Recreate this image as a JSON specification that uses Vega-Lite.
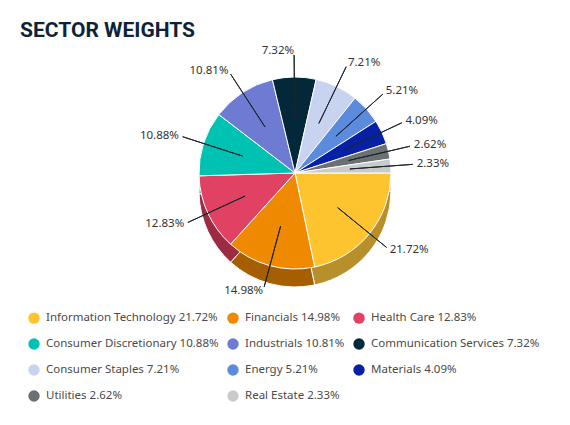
{
  "$schema": "https://vega.github.io/schema/vega-lite/v6.json",
  "width": 550,
  "height": 228,
  "padding": {"left": 20, "top": 20, "right": 0, "bottom": 0},
  "background": "white",
  "title": {
    "text": "SECTOR WEIGHTS",
    "anchor": "start",
    "font": "Roboto",
    "fontWeight": 700,
    "fontSize": 21,
    "color": "#0d2438",
    "offset": 4
  },
  "data": {
    "values": [
      {"sector": "Information Technology", "weight": 21.72},
      {"sector": "Financials", "weight": 14.98},
      {"sector": "Health Care", "weight": 12.83},
      {"sector": "Consumer Discretionary", "weight": 10.88},
      {"sector": "Industrials", "weight": 10.81},
      {"sector": "Communication Services", "weight": 7.32},
      {"sector": "Consumer Staples", "weight": 7.21},
      {"sector": "Energy", "weight": 5.21},
      {"sector": "Materials", "weight": 4.09},
      {"sector": "Utilities", "weight": 2.62},
      {"sector": "Real Estate", "weight": 2.33}
    ]
  },
  "transform": [
    {"stack": "weight", "groupby": [], "sort": [{"field": "weight", "order": "descending"}], "as": ["t0", "t1"]},
    {"calculate": "(datum.t0 + datum.t1) / 2", "as": "mid"},
    {"calculate": "format(datum.weight, '.2f') + '%'", "as": "pct"},
    {"calculate": "datum.sector + ' ' + datum.pct", "as": "label"}
  ],
  "layer": [
    {
      "mark": {"type": "arc", "radius": 96, "yOffset": 18, "stroke": "white", "strokeWidth": 1},
      "encoding": {
        "theta": {"field": "t0", "type": "quantitative", "stack": null, "scale": {"domain": [0, 100], "range": [1.5708, 7.854]}},
        "theta2": {"field": "t1"},
        "color": {
          "field": "sector",
          "type": "nominal",
          "legend": null,
          "scale": {
            "domain": ["Information Technology", "Financials", "Health Care", "Consumer Discretionary", "Industrials", "Communication Services", "Consumer Staples", "Energy", "Materials", "Utilities", "Real Estate"],
            "range": ["#b78f2b", "#a65f00", "#9d2c43", "#00857a", "#4d569a", "#011c28", "#8c93a6", "#3f61a0", "#071877", "#4e5053", "#8c8d8d"]
          }
        }
      }
    },
    {
      "mark": {"type": "arc", "radius": 96, "stroke": "white", "strokeWidth": 1},
      "encoding": {
        "theta": {"field": "t0", "type": "quantitative", "stack": null, "scale": {"domain": [0, 100], "range": [1.5708, 7.854]}},
        "theta2": {"field": "t1"},
        "color": {
          "field": "label",
          "type": "nominal",
          "scale": {
            "domain": ["Information Technology 21.72%", "Financials 14.98%", "Health Care 12.83%", "Consumer Discretionary 10.88%", "Industrials 10.81%", "Communication Services 7.32%", "Consumer Staples 7.21%", "Energy 5.21%", "Materials 4.09%", "Utilities 2.62%", "Real Estate 2.33%"],
            "range": ["#fec42f", "#ee8900", "#e14263", "#00c2b2", "#6d7bd2", "#03283a", "#c7d3ef", "#5a8bdc", "#0620a6", "#6c7073", "#c9cbcb"]
          },
          "legend": {
            "orient": "none",
            "legendX": 8,
            "legendY": 253,
            "direction": "horizontal",
            "columns": 3,
            "title": null,
            "symbolType": "circle",
            "symbolSize": 130,
            "symbolStrokeWidth": 0,
            "labelFont": "Noto Sans",
            "labelFontSize": 11.5,
            "labelColor": "#4a4a4a",
            "labelLimit": 300,
            "labelOffset": 6,
            "rowPadding": 14,
            "columnPadding": 8
          }
        }
      }
    },
    {
      "mark": {"type": "arc", "radius": 118, "radius2": 55, "padAngle": 3.1, "fillOpacity": 0, "stroke": "#1b2630", "strokeWidth": 1},
      "encoding": {
        "theta": {"field": "t0", "type": "quantitative", "stack": null, "scale": {"domain": [0, 100], "range": [1.5708, 7.854]}},
        "theta2": {"field": "t1"}
      }
    },
    {
      "transform": [{"filter": "datum.mid < 25 || datum.mid > 75"}],
      "mark": {"type": "text", "radius": 122, "align": "left", "baseline": "middle", "font": "Noto Sans", "fontSize": 11.5, "color": "#333333"},
      "encoding": {
        "theta": {"field": "mid", "type": "quantitative", "stack": null, "scale": {"domain": [0, 100], "range": [1.5708, 7.854]}},
        "text": {"field": "pct"}
      }
    },
    {
      "transform": [{"filter": "datum.mid >= 25 && datum.mid <= 75"}],
      "mark": {"type": "text", "radius": 122, "align": "right", "baseline": "middle", "font": "Noto Sans", "fontSize": 11.5, "color": "#333333"},
      "encoding": {
        "theta": {"field": "mid", "type": "quantitative", "stack": null, "scale": {"domain": [0, 100], "range": [1.5708, 7.854]}},
        "text": {"field": "pct"}
      }
    }
  ],
  "resolve": {"scale": {"color": "independent"}},
  "config": {"view": {"stroke": null}}
}
